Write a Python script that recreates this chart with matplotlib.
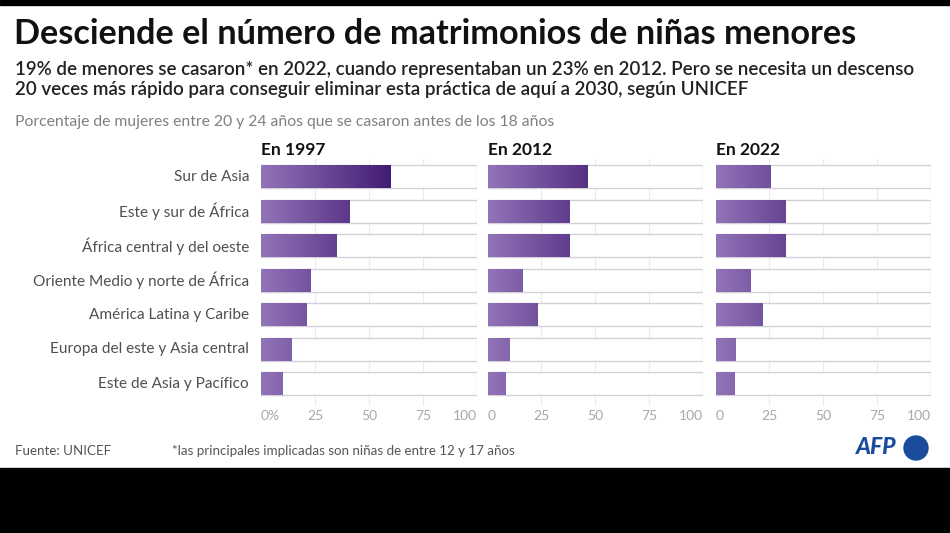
import numpy as np
import matplotlib as mpl
import matplotlib.pyplot as plt
from matplotlib.colors import LinearSegmentedColormap

plt.rcParams['font.family'] = ['Lato', 'DejaVu Sans']

regions = ['Sur de Asia', 'Este y sur de África', 'África central y del oeste',
           'Oriente Medio y norte de África', 'América Latina y Caribe',
           'Europa del este y Asia central', 'Este de Asia y Pacífico']
years = ['En 1997', 'En 2012', 'En 2022']
v1997 = [60, 41, 35, 23, 21, 14, 10]
v2012 = [46, 38, 38, 16, 23, 10, 8]
v2022 = [25.5, 32.5, 32.5, 16, 21.5, 9, 8.5]
values = [v1997, v2012, v2022]
ticks = [0, 25, 50, 75, 100]

W, H = 950, 533
fig = plt.figure(figsize=(W / 100, H / 100), dpi=100)
fig.patch.set_facecolor('white')

def px(x, y):
    return x / W, 1 - y / H

# black bands top and bottom
fig.patches.append(mpl.patches.Rectangle((0, 1 - 5 / H), 1, 5 / H, transform=fig.transFigure,
                                         color='black', zorder=0))
fig.patches.append(mpl.patches.Rectangle((0, 0), 1, (H - 468) / H, transform=fig.transFigure,
                                         color='black', zorder=0))

fig.text(*px(14, 34), 'Desciende el número de matrimonios de niñas menores',
         fontsize=24.7, fontweight='bold', color='#111111', va='center')
fig.text(*px(15, 70), '19% de menores se casaron* en 2022, cuando representaban un 23% en 2012. Pero se necesita un descenso',
         fontsize=13.5, fontweight='semibold', color='#222222', va='center')
fig.text(*px(15, 90), '20 veces más rápido para conseguir eliminar esta práctica de aquí a 2030, según UNICEF',
         fontsize=13.5, fontweight='semibold', color='#222222', va='center')
fig.text(*px(15, 122), 'Porcentaje de mujeres entre 20 y 24 años que se casaron antes de los 18 años',
         fontsize=11.3, color='#808080', va='center')

cmap = LinearSegmentedColormap.from_list('purp', ['#9274b8', '#3f1971'])
grad = np.linspace(0, 100, 400).reshape(1, -1)

panels = [(261, 477), (487.5, 703), (715.7, 930.7)]
top, bottom = 159, 406
rows = np.arange(len(regions))
h = 0.67

for k, (x0, x1) in enumerate(panels):
    ax = fig.add_axes([x0 / W, 1 - bottom / H, (x1 - x0) / W, (bottom - top) / H])
    ax.set_xlim(0, 100)
    ax.set_ylim(6.64, -0.52)
    for s in ax.spines.values():
        s.set_visible(False)
    for t in ticks[1:-1]:
        ax.axvline(t, color='#ebebeb', lw=0.8, zorder=0)
    ax.barh(rows, 100, height=h, color='white', edgecolor='#d3d0da', lw=1, zorder=1)
    bars = ax.barh(rows, values[k], height=h, color='none', lw=0, zorder=2)
    for b in bars:
        im = ax.imshow(grad, extent=(0, 100, 6.64, -0.52), aspect='auto', cmap=cmap,
                       vmin=0, vmax=62, zorder=2)
        im.set_clip_path(b)
    ax.set_xticks(ticks)
    labels = ['0%' if k == 0 else '0'] + [str(t) for t in ticks[1:]]
    ax.set_xticklabels(labels)
    tl = ax.get_xticklabels()
    tl[0].set_ha('left')
    tl[-1].set_ha('right')
    ax.tick_params(axis='x', length=0, pad=3, labelsize=10, labelcolor='#a8a8a8')
    ax.set_yticks([])
    ax.set_title(years[k], loc='left', fontsize=12.5, fontweight='bold', color='#111111', pad=3)
    if k == 0:
        for r, name in zip(rows, regions):
            ax.text(-5.5, r, name, ha='right', va='center', fontsize=11.1,
                    color='#505050')

fig.text(*px(15, 451), 'Fuente: UNICEF', fontsize=9.6, color='#555555', va='center')
fig.text(*px(172, 451), '*las principales implicadas son niñas de entre 12 y 17 años',
         fontsize=9.6, color='#555555', va='center')
fig.text(*px(856, 448), 'AFP', fontsize=16.5, fontweight='black', style='italic',
         color='#1a4b9c', va='center')
fig.patches.append(mpl.patches.Ellipse(px(916, 448), 24 / W, 24 / H, transform=fig.transFigure,
                                       color='#1a4b9c'))

fig.savefig('out.png', dpi=100, facecolor='white')
